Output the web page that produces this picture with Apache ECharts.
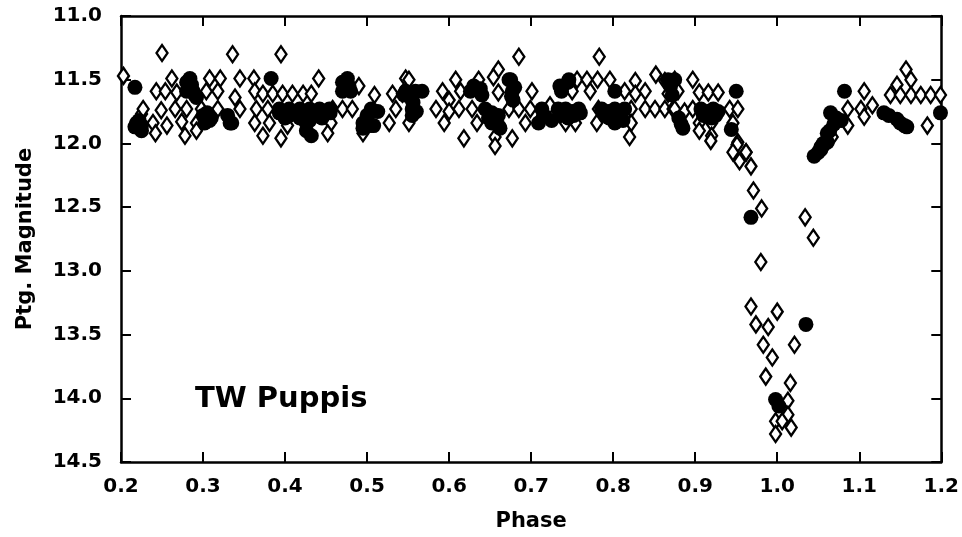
<!DOCTYPE html>
<html><head><meta charset="utf-8">
<script src="https://cdn.jsdelivr.net/npm/echarts@6/dist/echarts.min.js"></script>
<style>html,body{margin:0;padding:0;background:#fff}#c{width:962px;height:537px}</style>
</head><body><div id="c"></div>
<script>
// Open diamonds: [phase, magnitude]
const openPoints = [
[0.203,11.47],[0.225,11.77],[0.250,11.29],[0.336,11.30],[0.395,11.30],
[0.262,11.49],[0.308,11.49],[0.321,11.49],[0.345,11.49],[0.362,11.49],[0.441,11.49],[0.547,11.49],
[0.490,11.55],
[0.243,11.59],[0.254,11.59],[0.268,11.60],[0.304,11.59],[0.318,11.59],[0.339,11.64],[0.363,11.59],
[0.373,11.61],[0.385,11.61],[0.397,11.61],[0.409,11.61],[0.422,11.61],[0.432,11.61],[0.509,11.62],[0.531,11.61],[0.543,11.61],
[0.227,11.73],[0.249,11.74],[0.266,11.73],[0.280,11.73],[0.298,11.73],[0.318,11.73],[0.345,11.73],[0.365,11.73],[0.379,11.73],
[0.458,11.73],[0.470,11.73],[0.482,11.73],[0.535,11.73],
[0.239,11.84],[0.256,11.86],[0.274,11.83],[0.292,11.84],[0.363,11.84],[0.381,11.84],[0.403,11.86],[0.456,11.84],[0.527,11.84],
[0.278,11.94],[0.292,11.90],[0.373,11.94],[0.395,11.96],[0.452,11.92],[0.495,11.92],[0.242,11.92],
[0.685,11.32],[0.783,11.32],[0.660,11.42],[0.852,11.46],
[0.551,11.50],[0.608,11.50],[0.636,11.50],[0.654,11.48],[0.756,11.50],[0.768,11.50],[0.781,11.50],[0.796,11.50],[0.827,11.51],[0.863,11.51],[0.875,11.50],
[0.592,11.59],[0.614,11.59],[0.660,11.60],[0.701,11.59],[0.750,11.59],[0.772,11.59],[0.814,11.59],[0.827,11.61],[0.839,11.59],[0.867,11.61],
[0.600,11.66],
[0.584,11.73],[0.600,11.75],[0.612,11.73],[0.628,11.73],[0.673,11.73],[0.685,11.73],[0.699,11.73],[0.723,11.70],[0.782,11.73],
[0.822,11.73],[0.839,11.73],[0.851,11.73],[0.863,11.73],[0.873,11.73],
[0.551,11.84],[0.594,11.84],[0.634,11.84],[0.693,11.84],[0.742,11.84],[0.754,11.84],[0.780,11.84],[0.822,11.84],
[0.618,11.96],[0.656,11.95],[0.677,11.96],[0.820,11.95],[0.656,12.02],
[0.897,11.50],[0.879,11.59],[0.905,11.60],[0.916,11.60],[0.928,11.60],
[0.875,11.73],[0.887,11.75],[0.897,11.73],[0.942,11.73],[0.952,11.73],
[0.905,11.84],[0.920,11.84],[0.946,11.84],[0.920,11.94],[0.952,11.99],[0.962,12.07],
[1.106,11.59],[1.157,11.42],[1.163,11.50],[1.146,11.54],[1.138,11.62],[1.150,11.62],[1.163,11.62],[1.175,11.62],[1.187,11.62],[1.199,11.62],
[1.086,11.73],[1.102,11.73],[1.116,11.70],[1.183,11.86],
[1.067,11.95],[1.086,11.86],[1.106,11.79],
[0.905,11.90],[0.919,11.98],[0.951,12.01],[0.946,12.07],[0.954,12.14],[0.962,12.07],[0.968,12.18],[0.971,12.37],
[0.981,12.51],[0.980,12.93],[0.968,13.28],[0.974,13.42],[0.989,13.44],[1.000,13.32],[0.983,13.58],[0.994,13.68],
[0.986,13.83],[1.016,13.88],[1.021,13.58],[1.034,12.58],[1.044,12.74],
[1.013,14.02],[1.013,14.13],[0.998,14.18],[1.006,14.18],[1.017,14.23],[0.998,14.28],[1.058,12.02]
];
// Filled points: [phase, magnitude]
const filledPoints = [
[0.217,11.56],[0.217,11.87],[0.222,11.82],[0.225,11.90],
[0.284,11.49],[0.383,11.49],[0.476,11.49],[0.286,11.54],[0.280,11.59],[0.288,11.59],[0.292,11.64],[0.470,11.59],[0.480,11.59],
[0.280,11.52],[0.290,11.62],[0.470,11.52],[0.478,11.55],
[0.393,11.73],[0.405,11.73],[0.418,11.73],[0.430,11.73],[0.442,11.73],[0.454,11.73],[0.505,11.73],[0.513,11.75],
[0.393,11.76],[0.405,11.78],[0.418,11.80],[0.430,11.82],[0.445,11.80],[0.455,11.76],
[0.400,11.80],[0.420,11.80],[0.440,11.78],[0.305,11.76],[0.500,11.78],
[0.426,11.90],[0.500,11.80],[0.508,11.86],[0.495,11.88],[0.330,11.78],[0.335,11.84],[0.300,11.78],[0.310,11.80],
[0.219,11.84],[0.225,11.86],[0.302,11.84],[0.308,11.82],[0.333,11.84],[0.426,11.84],[0.495,11.84],[0.503,11.86],[0.432,11.94],
[0.675,11.50],[0.746,11.50],[0.547,11.59],[0.559,11.59],[0.567,11.59],[0.626,11.59],[0.638,11.57],[0.677,11.59],[0.737,11.59],[0.802,11.59],
[0.545,11.62],[0.556,11.68],[0.560,11.75],[0.630,11.55],[0.640,11.62],
[0.648,11.80],[0.655,11.82],[0.662,11.88],[0.673,11.50],[0.680,11.56],[0.676,11.63],
[0.715,11.78],[0.725,11.82],[0.735,11.78],[0.745,11.80],[0.752,11.78],[0.760,11.76],
[0.790,11.78],[0.800,11.80],[0.808,11.78],[0.812,11.82],[0.735,11.55],[0.745,11.52],
[0.555,11.73],[0.644,11.73],[0.652,11.76],[0.660,11.78],[0.713,11.73],[0.733,11.73],[0.742,11.73],[0.750,11.75],[0.758,11.73],
[0.786,11.73],[0.794,11.75],[0.802,11.73],[0.810,11.76],[0.814,11.73],[0.652,11.84],[0.660,11.86],[0.709,11.84],[0.802,11.84],
[0.555,11.66],[0.678,11.66],[0.555,11.78],[0.795,11.80],[0.805,11.82],
[0.867,11.50],[0.875,11.50],[0.950,11.59],[0.907,11.73],[0.915,11.75],[0.922,11.73],[0.928,11.75],[0.883,11.85],
[0.870,11.55],[0.872,11.62],[0.880,11.80],[0.885,11.88],[0.910,11.78],[0.920,11.80],[0.925,11.78],
[1.082,11.59],[1.065,11.76],[1.130,11.76],[1.146,11.81],[1.155,11.86],[1.199,11.76],
[1.136,11.78],[1.150,11.84],[1.158,11.87],
[1.053,12.03],[1.061,11.92],[1.069,11.85],[1.078,11.82],[1.056,12.00],[1.064,11.90],[1.072,11.80],
[0.944,11.89],[0.968,12.58],[0.998,14.01],[1.002,14.06],[1.045,12.10],[1.050,12.07],[1.053,12.05],[1.061,11.99],[1.035,13.42]
];
const xTicks = [0.2,0.3,0.4,0.5,0.6,0.7,0.8,0.9,1.0,1.1,1.2];
const yTicks = [11.0,11.5,12.0,12.5,13.0,13.5,14.0,14.5];
const starName = 'TW Puppis';

const FONT = '"DejaVu Sans", sans-serif';
const axisCommon = {
  axisLine:{show:true,onZero:false,lineStyle:{color:'#000',width:2.5}},
  axisTick:{show:true,inside:true,length:10,lineStyle:{color:'#000',width:2}},
  splitLine:{show:false}
};
const chart = echarts.init(document.getElementById('c'), null, {renderer:'canvas'});
chart.setOption({
  backgroundColor:'#fff',
  animation:false,
  grid:{left:121,right:18,top:16,bottom:73},
  xAxis:[
    Object.assign({type:'value',min:xTicks[0],max:xTicks[xTicks.length-1],interval:0.1,position:'bottom',
      name:'Phase',nameLocation:'middle',nameGap:49,
      nameTextStyle:{fontFamily:FONT,fontWeight:'bold',fontSize:21,color:'#000'},
      axisLabel:{margin:15,fontFamily:FONT,fontWeight:'bold',fontSize:20,color:'#000',formatter:v=>v.toFixed(1)}},axisCommon),
    Object.assign({type:'value',min:xTicks[0],max:xTicks[xTicks.length-1],interval:0.1,position:'top',axisLabel:{show:false}},axisCommon)
  ],
  yAxis:[
    Object.assign({type:'value',inverse:true,min:yTicks[0],max:yTicks[yTicks.length-1],interval:0.5,position:'left',
      name:'Ptg. Magnitude',nameLocation:'middle',nameGap:85,nameRotate:90,
      nameTextStyle:{fontFamily:FONT,fontWeight:'bold',fontSize:21,color:'#000'},
      axisLabel:{margin:19,fontFamily:FONT,fontWeight:'bold',fontSize:20,color:'#000',formatter:v=>v.toFixed(1)}},axisCommon),
    Object.assign({type:'value',inverse:true,min:yTicks[0],max:yTicks[yTicks.length-1],interval:0.5,position:'right',axisLabel:{show:false}},axisCommon)
  ],
  series:[
    {type:'scatter',name:'open',data:openPoints,symbol:'diamond',symbolSize:[11,16],
     itemStyle:{color:'#fff',borderColor:'#000',borderWidth:2.4,opacity:1}},
    {type:'scatter',name:'filled',data:filledPoints,symbol:'circle',symbolSize:15,
     itemStyle:{color:'#000',borderColor:'#000',borderWidth:0,opacity:1}}
  ],
  graphic:[{type:'text',left:195,top:385,style:{text:starName,fontFamily:FONT,fontSize:29,fontWeight:'bold',fill:'#000'}}]
});
</script></body></html>
